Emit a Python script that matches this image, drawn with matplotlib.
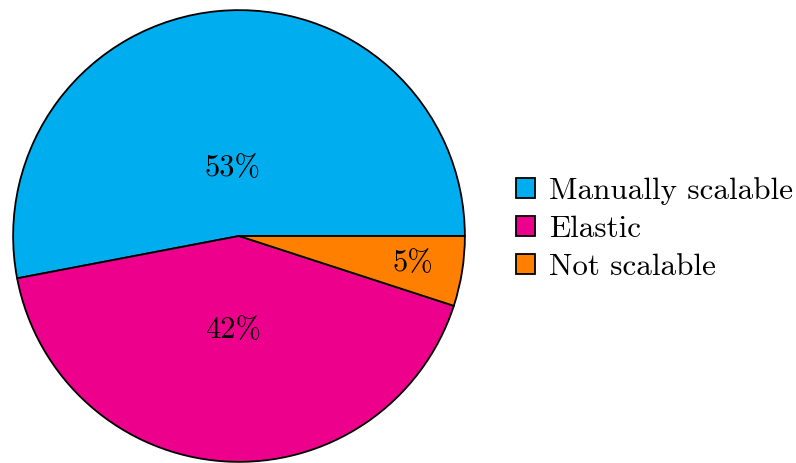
import numpy as np
import matplotlib
matplotlib.use("Agg")
import matplotlib.pyplot as plt

plt.rcParams['font.family'] = ['cmr10', 'DejaVu Serif']
plt.rcParams['mathtext.fontset'] = 'cm'
plt.rcParams['axes.unicode_minus'] = False

categories = ["Manually scalable", "Elastic", "Not scalable"]
values = [53, 42, 5]
colors = ["#00AEEF", "#EC008C", "#FF8000"]
label_dist = [0.30, 0.42, 0.78]

fig = plt.figure(figsize=(7.96, 4.63), dpi=100)
ax = fig.add_axes([12/796, 0/463, 454/796, 454/463])
wedges, _ = ax.pie(values, colors=colors, startangle=0, counterclock=True,
                   radius=1, wedgeprops=dict(edgecolor='black', linewidth=1.3))
ax.set_xlim(-1.005, 1.005)
ax.set_ylim(-1.005, 1.005)
ax.set_aspect('equal')
ax.axis('off')

for w, v, d in zip(wedges, values, label_dist):
    ang = np.deg2rad((w.theta1 + w.theta2) / 2)
    ax.text(d * np.cos(ang), d * np.sin(ang), f"{v}%", ha='center', va='center',
            fontsize=22)

leg = fig.legend(wedges, categories, loc='center left',
                 bbox_to_anchor=(516/796, (463-229)/463), frameon=False,
                 fontsize=22.4, borderpad=0, handlelength=0.62, handleheight=0.62,
                 handletextpad=0.45, labelspacing=0.33, borderaxespad=0)
for h in leg.legend_handles:
    h.set_linewidth(1.3)
    h.set_edgecolor('black')

fig.savefig("out.png", dpi=100)
